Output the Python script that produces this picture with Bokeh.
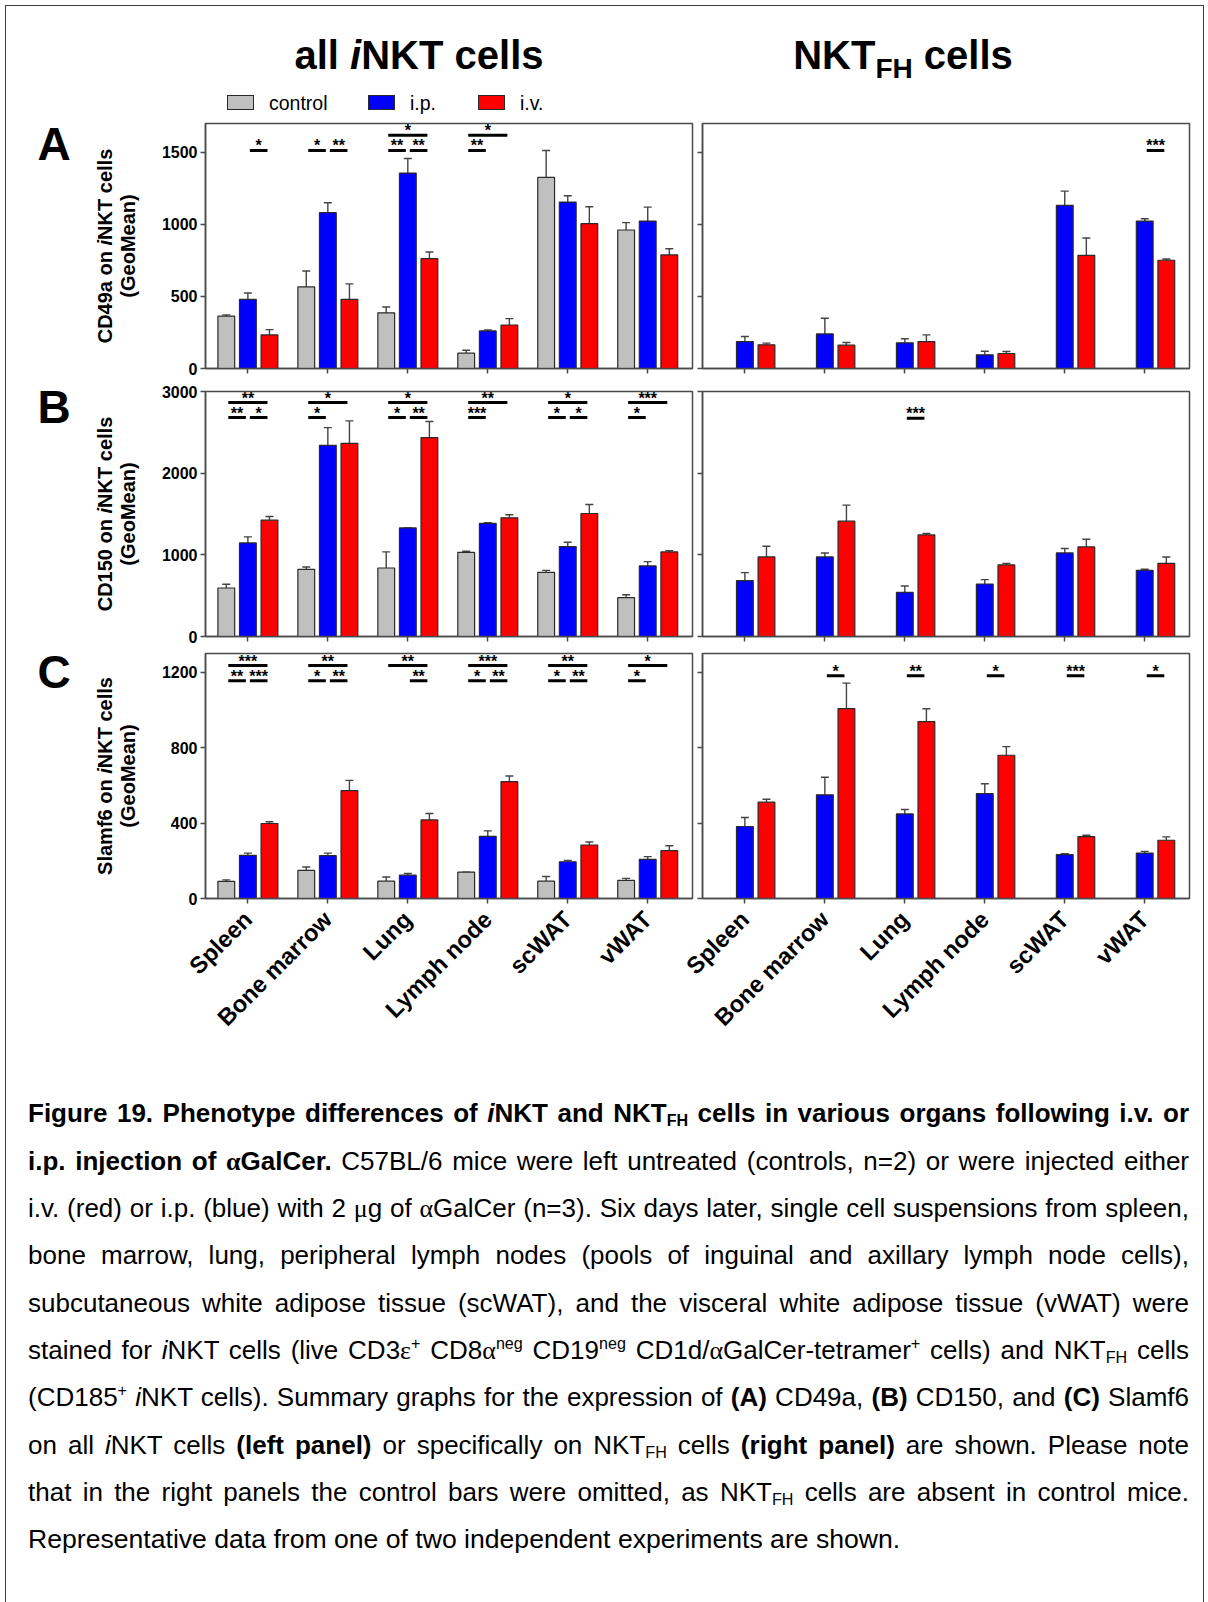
import numpy as np
from bokeh.plotting import figure
from bokeh.models import (Range1d, FixedTicker, ColumnDataSource, Whisker, TeeHead,
                          Div, Column, Row)
from bokeh.core.properties import value
from bokeh.embed import file_html
from bokeh.resources import INLINE

# ---------------- data ----------------
categories = ["Spleen", "Bone marrow", "Lung", "Lymph node", "scWAT", "vWAT"]
group_names = ["control", "i.p.", "i.v."]

# (A) CD49a - all iNKT cells
cd49a_all_control = [363, 566, 386, 106, 1326, 961]
cd49a_all_control_sem = [9, 111, 41, 21, 187, 51]
cd49a_all_ip = [480, 1081, 1356, 261, 1155, 1023]
cd49a_all_ip_sem = [44, 69, 101, 7, 44, 97]
cd49a_all_iv = [233, 480, 762, 302, 1005, 788]
cd49a_all_iv_sem = [37, 107, 46, 44, 117, 43]
# (A) CD49a - NKTFH cells
cd49a_fh_ip = [187, 240, 178, 95, 1132, 1023]
cd49a_fh_ip_sem = [35, 109, 28, 25, 99, 16]
cd49a_fh_iv = [164, 162, 187, 104, 785, 751]
cd49a_fh_iv_sem = [12, 18, 46, 14, 120, 9]

# (B) CD150 - all iNKT cells
cd150_all_control = [594, 823, 839, 1031, 786, 475]
cd150_all_control_sem = [45, 28, 197, 13, 24, 37]
cd150_all_ip = [1146, 2341, 1330, 1384, 1101, 864]
cd150_all_ip_sem = [74, 217, 0, 11, 54, 53]
cd150_all_iv = [1424, 2366, 2436, 1453, 1506, 1036]
cd150_all_iv_sem = [45, 274, 196, 37, 111, 16]
# (B) CD150 - NKTFH cells
cd150_fh_ip = [684, 974, 540, 643, 1023, 810]
cd150_fh_ip_sem = [98, 49, 78, 53, 54, 13]
cd150_fh_iv = [974, 1412, 1244, 876, 1097, 896]
cd150_fh_iv_sem = [131, 197, 17, 20, 94, 78]

# (C) Slamf6 - all iNKT cells
slamf6_all_control = [91, 149, 92, 140, 92, 96]
slamf6_all_control_sem = [8, 18, 22, 0, 25, 11]
slamf6_all_ip = [229, 227, 124, 330, 195, 208]
slamf6_all_ip_sem = [12, 14, 9, 29, 7, 14]
slamf6_all_iv = [398, 572, 417, 620, 284, 254]
slamf6_all_iv_sem = [9, 55, 34, 30, 16, 26]
# (C) Slamf6 - NKTFH cells
slamf6_fh_ip = [382, 550, 449, 557, 233, 241]
slamf6_fh_ip_sem = [48, 93, 23, 52, 5, 9]
slamf6_fh_iv = [511, 1008, 939, 760, 328, 309]
slamf6_fh_iv_sem = [16, 135, 68, 46, 8, 18]

# significance brackets: (category index, group a, group b, height, label)
sig_cd49a_all = [(0, "i.p.", "i.v.", 1513, "*"),
                 (1, "control", "i.p.", 1513, "*"), (1, "i.p.", "i.v.", 1513, "**"),
                 (2, "control", "i.v.", 1619, "*"), (2, "control", "i.p.", 1513, "**"),
                 (2, "i.p.", "i.v.", 1513, "**"),
                 (3, "control", "i.v.", 1619, "*"), (3, "control", "i.p.", 1513, "**")]
sig_cd49a_fh = [(5, "i.p.", "i.v.", 1513, "***")]
sig_cd150_all = [(0, "control", "i.v.", 2865, "**"), (0, "control", "i.p.", 2681, "**"),
                 (0, "i.p.", "i.v.", 2681, "*"),
                 (1, "control", "i.v.", 2865, "*"), (1, "control", "i.p.", 2681, "*"),
                 (2, "control", "i.v.", 2865, "*"), (2, "control", "i.p.", 2681, "*"),
                 (2, "i.p.", "i.v.", 2681, "**"),
                 (3, "control", "i.v.", 2865, "**"), (3, "control", "i.p.", 2681, "***"),
                 (4, "control", "i.v.", 2865, "*"), (4, "control", "i.p.", 2681, "*"),
                 (4, "i.p.", "i.v.", 2681, "*"),
                 (5, "control", "i.v.", 2865, "***"), (5, "control", "i.p.", 2681, "*")]
sig_cd150_fh = [(2, "i.p.", "i.v.", 2673, "***")]
sig_slamf6_all = [(0, "control", "i.v.", 1236, "***"), (0, "control", "i.p.", 1156, "**"),
                  (0, "i.p.", "i.v.", 1156, "***"),
                  (1, "control", "i.v.", 1236, "**"), (1, "control", "i.p.", 1156, "*"),
                  (1, "i.p.", "i.v.", 1156, "**"),
                  (2, "control", "i.v.", 1236, "**"), (2, "i.p.", "i.v.", 1156, "**"),
                  (3, "control", "i.v.", 1236, "***"), (3, "control", "i.p.", 1156, "*"),
                  (3, "i.p.", "i.v.", 1156, "**"),
                  (4, "control", "i.v.", 1236, "**"), (4, "control", "i.p.", 1156, "*"),
                  (4, "i.p.", "i.v.", 1156, "**"),
                  (5, "control", "i.v.", 1236, "*"), (5, "control", "i.p.", 1156, "*")]
sig_slamf6_fh = [(1, "i.p.", "i.v.", 1182, "*"), (2, "i.p.", "i.v.", 1182, "**"),
                 (3, "i.p.", "i.v.", 1182, "*"), (4, "i.p.", "i.v.", 1182, "***"),
                 (5, "i.p.", "i.v.", 1182, "*")]

y_max = [1700, 3000, 1300]
y_ticks = [[0, 500, 1000, 1500], [0, 1000, 2000, 3000], [0, 400, 800, 1200]]
markers = ["CD49a", "CD150", "Slamf6"]
panel_letters = ["A", "B", "C"]

# ---------------- style / layout ----------------
W, H = 1208, 1602
FW, FH = 487, 245
X0, X1 = -0.53, 5.56
BAR_W = 0.21
OFFSET = {"control": -0.27, "i.p.": 0.0, "i.v.": 0.27}
COLOR = {"control": "#c0c0c0", "i.p.": "#0000ff", "i.v.": "#ff0000"}
AX = "#4a4a4a"
FONT = "Liberation Sans"
# per row: figure height and border above the frame -> frames at y = 123, 391, 653
ROW_H = [380, 265, 400]
ROW_TOP = [123, 11, 8]
RIGHT_OVERLAP = 40
LEFT_W, LEFT_BL, LEFT_BR = 695, 205, 3
RIGHT_W, RIGHT_BL, RIGHT_BR = 513 + RIGHT_OVERLAP, 7 + RIGHT_OVERLAP, 19


def make_panel(fw, bl, br, fh, bt, ymax, yticks, series, sigs, ylabels, xlabels):
    p = figure(width=fw, height=fh, x_range=Range1d(X0, X1), y_range=Range1d(0, ymax),
               min_border_left=bl, min_border_right=br,
               min_border_top=bt, min_border_bottom=fh - bt - FH,
               output_backend="svg", toolbar_location=None, tools="")
    p.border_fill_alpha = 0
    p.background_fill_alpha = 0
    p.outline_line_color = AX
    p.outline_line_width = 1.5
    p.xgrid.visible = False
    p.ygrid.visible = False
    for ax in (p.xaxis[0], p.yaxis[0]):
        ax.axis_line_color = AX
        ax.axis_line_width = 1.5
        ax.major_tick_line_color = AX
        ax.major_tick_line_width = 1.5
        ax.major_tick_in = 0
        ax.major_tick_out = 5
        ax.minor_tick_line_color = None
        ax.major_label_text_font = FONT
        ax.major_label_text_font_style = "bold"
        ax.major_label_text_color = "black"
    p.xaxis.ticker = FixedTicker(ticks=list(range(len(categories))))
    p.yaxis.ticker = FixedTicker(ticks=yticks)
    p.yaxis.major_label_text_font_size = "16px"
    p.yaxis.major_label_standoff = 3
    if ylabels:
        p.yaxis.major_label_overrides = {t: str(t) for t in yticks}
    else:
        p.yaxis.major_label_overrides = {t: "" for t in yticks}
    if xlabels:
        p.xaxis.major_label_overrides = {i: c for i, c in enumerate(categories)}
        p.xaxis.major_label_orientation = np.pi / 4
        p.xaxis.major_label_text_font_size = "23.5px"
        p.xaxis.major_label_standoff = 12
    else:
        p.xaxis.major_label_overrides = {i: "" for i in range(len(categories))}

    n = len(categories)
    for g, means, sems in series:
        x = np.arange(n) + OFFSET[g]
        top = np.array(means, dtype=float)
        src = ColumnDataSource(dict(x=x, top=top, upper=top + np.array(sems, dtype=float)))
        p.vbar(x="x", top="top", width=BAR_W, source=src, fill_color=COLOR[g],
               line_color="#2a2a2a", line_width=1.2)
        p.add_layout(Whisker(source=src, base="x", lower="top", upper="upper",
                             upper_head=TeeHead(size=8, line_color="#444444", line_width=1.4),
                             lower_head=None, line_color="#444444", line_width=1.4))

    inset = 0.025
    x0s = [c + OFFSET[a] + inset for c, a, b, y, l in sigs]
    x1s = [c + OFFSET[b] - inset for c, a, b, y, l in sigs]
    ys = [y for c, a, b, y, l in sigs]
    labs = [l for c, a, b, y, l in sigs]
    xm = [(u + v) / 2 for u, v in zip(x0s, x1s)]
    p.segment(x0=x0s, y0=ys, x1=x1s, y1=ys, line_width=3, line_color="black")
    p.text(x=xm, y=ys, text=labs, text_font=value(FONT), text_font_style="bold",
           text_font_size="16px", text_align="center", text_baseline="bottom",
           y_offset=4, text_color="black")
    return p


all_series = [
    [("control", cd49a_all_control, cd49a_all_control_sem), ("i.p.", cd49a_all_ip, cd49a_all_ip_sem),
     ("i.v.", cd49a_all_iv, cd49a_all_iv_sem)],
    [("control", cd150_all_control, cd150_all_control_sem), ("i.p.", cd150_all_ip, cd150_all_ip_sem),
     ("i.v.", cd150_all_iv, cd150_all_iv_sem)],
    [("control", slamf6_all_control, slamf6_all_control_sem), ("i.p.", slamf6_all_ip, slamf6_all_ip_sem),
     ("i.v.", slamf6_all_iv, slamf6_all_iv_sem)],
]
fh_series = [
    [("i.p.", cd49a_fh_ip, cd49a_fh_ip_sem), ("i.v.", cd49a_fh_iv, cd49a_fh_iv_sem)],
    [("i.p.", cd150_fh_ip, cd150_fh_ip_sem), ("i.v.", cd150_fh_iv, cd150_fh_iv_sem)],
    [("i.p.", slamf6_fh_ip, slamf6_fh_ip_sem), ("i.v.", slamf6_fh_iv, slamf6_fh_iv_sem)],
]
all_sigs = [sig_cd49a_all, sig_cd150_all, sig_slamf6_all]
fh_sigs = [sig_cd49a_fh, sig_cd150_fh, sig_slamf6_fh]

left_figs, right_figs = [], []
for k in range(3):
    left_figs.append(make_panel(LEFT_W, LEFT_BL, LEFT_BR, ROW_H[k], ROW_TOP[k], y_max[k], y_ticks[k],
                                all_series[k], all_sigs[k], True, k == 2))
    right_figs.append(make_panel(RIGHT_W, RIGHT_BL, RIGHT_BR, ROW_H[k], ROW_TOP[k], y_max[k], y_ticks[k],
                                 fh_series[k], fh_sigs[k], False, k == 2))

left_col = Column(children=left_figs, spacing=0, margin=0)
right_col = Column(children=right_figs, spacing=0, margin=(0, 0, 0, -RIGHT_OVERLAP))
panels = Row(children=[left_col, right_col], spacing=0, margin=0)

# ---------------- texts (titles, legend, labels, caption) ----------------
FF = "'Liberation Sans', Arial, sans-serif"
GR = "<span style=\"font-family:'Liberation Serif',serif\">%s</span>"
SUB = '<span style="font-size:0.62em;vertical-align:-0.22em;line-height:0">%s</span>'
SUP = '<span style="font-size:0.62em;vertical-align:0.6em;line-height:0">%s</span>'


def absdiv(left, top, width, html, style=""):
    return (f'<div style="position:absolute;left:{left}px;top:{top}px;width:{width}px;'
            f'font-family:{FF};color:#000;{style}">{html}</div>')


FRAME_TOPS = [123, 391, 653]
parts = []
parts.append('<div style="position:absolute;left:5px;top:5px;width:1199px;height:1597px;'
             'box-sizing:border-box;border:1.5px solid #3c3c3c;border-bottom:none"></div>')
parts.append(absdiv(169, 35, 500, "all <i>i</i>NKT cells",
                    "font-size:40px;line-height:40px;font-weight:bold;text-align:center"))
parts.append(absdiv(653, 35, 500,
                    'NKT<span style="font-size:28px;position:relative;top:9px">FH</span> cells',
                    "font-size:40px;line-height:40px;font-weight:bold;text-align:center"))
# legend
legend_box_x = [227, 368, 478]
for g, bx in zip(group_names, legend_box_x):
    parts.append(f'<div style="position:absolute;left:{bx}px;top:95px;width:27px;height:15px;'
                 f'box-sizing:border-box;background:{COLOR[g]};border:1.3px solid #2a2a2a"></div>')
    parts.append(absdiv(bx + 42, 94, 120, g, "font-size:19.5px;line-height:19px"))

letter_tops = [121, 384, 649]
for k in range(3):
    parts.append(absdiv(24, letter_tops[k], 60, panel_letters[k],
                        "font-size:46px;line-height:46px;font-weight:bold;text-align:center"))
    cy = FRAME_TOPS[k] + FH / 2
    parts.append(absdiv(116.5 - 150, cy - 23, 300,
                        f"{markers[k]} on <i>i</i>NKT cells<br>(GeoMean)",
                        "height:46px;font-size:20px;line-height:23px;font-weight:bold;"
                        "text-align:center;transform:rotate(-90deg)"))

a = GR % "&alpha;"
caption_lines = [
    f"<b>Figure 19. Phenotype differences of <i>i</i>NKT and NKT{SUB % 'FH'} cells in various organs following i.v. or</b>",
    f"<b>i.p. injection of {a}GalCer.</b> C57BL/6 mice were left untreated (controls, n=2) or were injected either",
    f"i.v. (red) or i.p. (blue) with 2 {GR % '&mu;'}g of {a}GalCer (n=3). Six days later, single cell suspensions from spleen,",
    "bone marrow, lung, peripheral lymph nodes (pools of inguinal and axillary lymph node cells),",
    "subcutaneous white adipose tissue (scWAT), and the visceral white adipose tissue (vWAT) were",
    f"stained for <i>i</i>NKT cells (live CD3{GR % '&epsilon;'}{SUP % '+'} CD8{a}{SUP % 'neg'} CD19{SUP % 'neg'} "
    f"CD1d/{a}GalCer-tetramer{SUP % '+'} cells) and NKT{SUB % 'FH'} cells",
    f"(CD185{SUP % '+'} <i>i</i>NKT cells). Summary graphs for the expression of <b>(A)</b> CD49a, <b>(B)</b> CD150, and <b>(C)</b> Slamf6",
    f"on all <i>i</i>NKT cells <b>(left panel)</b> or specifically on NKT{SUB % 'FH'} cells <b>(right panel)</b> are shown. Please note",
    f"that in the right panels the control bars were omitted, as NKT{SUB % 'FH'} cells are absent in control mice.",
    "Representative data from one of two independent experiments are shown.",
]
for i, line in enumerate(caption_lines):
    last = i == len(caption_lines) - 1
    align = "text-align:left;font-size:26.6px" if last else \
        "text-align:justify;text-align-last:justify;font-size:26px"
    parts.append(absdiv(28, round(1090.5 + 47.3 * i), 1161, line,
                        f"height:47px;line-height:47px;{align}"))

html = f'<div style="position:relative;width:{W}px;height:{H}px;margin:0;padding:0">' + "".join(parts) + "</div>"
text_div = Div(text=html, width=W, height=H, margin=(0, 0, -H, 0))

layout = Column(children=[text_div, panels], width=W, height=H, spacing=0, margin=0)

open("out.html", "w").write(file_html(layout, INLINE, title="Figure 19"))
